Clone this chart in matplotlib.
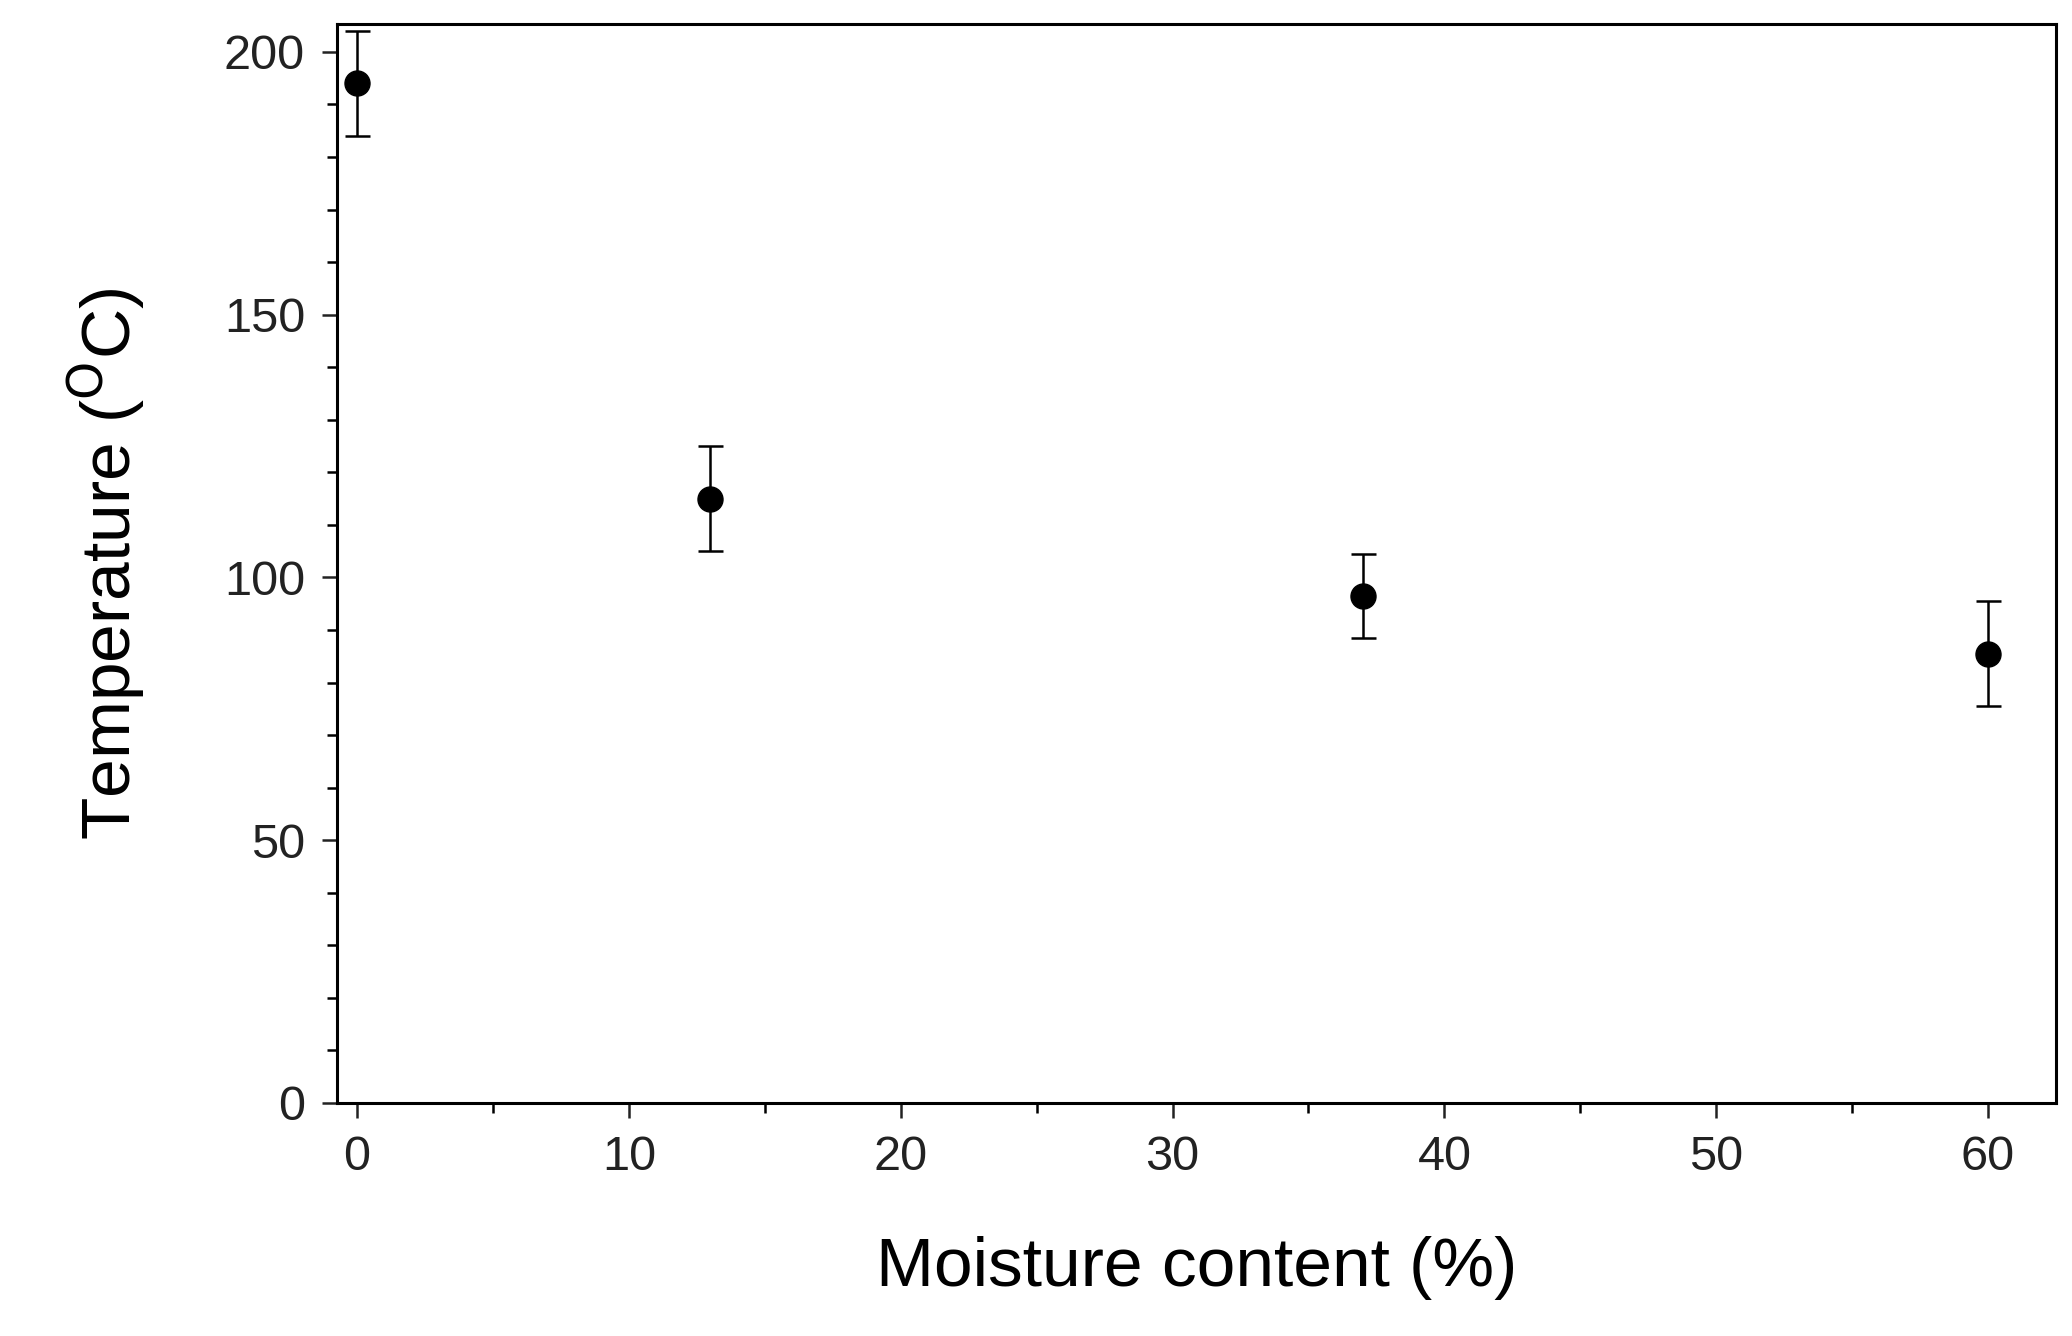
import matplotlib.pyplot as plt
from matplotlib.ticker import MultipleLocator

moisture = [0, 13, 37, 60]
temperature = [194, 115, 96.5, 85.5]
error = [10, 10, 8, 10]

plt.rcParams['font.family'] = ['Liberation Sans', 'DejaVu Sans']
fig = plt.figure(figsize=(20.72, 13.36), dpi=100)
ax = fig.add_axes([337 / 2072, 1 - 1103 / 1336, (2056 - 337) / 2072, (1103 - 24) / 1336])

ax.errorbar(moisture, temperature, yerr=error, fmt='o', color='black',
            markersize=18, capsize=9, elinewidth=1.8, capthick=1.8)

ax.set_xlim(-0.74, 62.5)
ax.set_ylim(0, 205.3)
ax.xaxis.set_major_locator(MultipleLocator(10))
ax.xaxis.set_minor_locator(MultipleLocator(5))
ax.yaxis.set_major_locator(MultipleLocator(50))
ax.yaxis.set_minor_locator(MultipleLocator(10))
ax.tick_params(which='major', direction='out', length=11, width=1.8, labelsize=35, colors='#222222', pad=12)
ax.tick_params(which='minor', direction='out', length=7, width=1.8)
for s in ax.spines.values():
    s.set_linewidth(2.2)

ax.set_xlabel('Moisture content (%)', fontsize=50, labelpad=40)
ax.set_ylabel('Temperature ($^{\\mathrm{O}}$C)', fontsize=50, labelpad=55)

fig.savefig('out.png')
